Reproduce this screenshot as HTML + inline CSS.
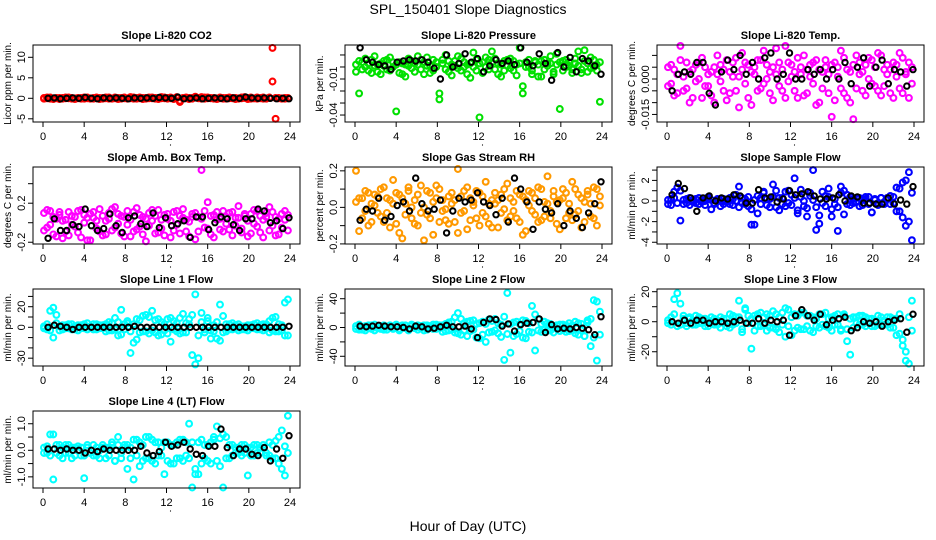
<!DOCTYPE html>
<html><head><meta charset="utf-8"><style>
html,body{margin:0;padding:0;background:#fff;}
svg{display:block;font-family:"Liberation Sans",sans-serif;}
</style></head><body>
<svg id="chart" width="936" height="540" viewBox="0 0 936 540">
<rect x="0" y="0" width="936" height="540" fill="#fff"/>
<text x="468" y="14" text-anchor="middle" font-size="14">SPL_150401  Slope Diagnostics</text>
<text x="468" y="531" text-anchor="middle" font-size="14">Hour of Day (UTC)</text>
<g id="panels"></g>
</svg>
<script>
const hours=[0.1,0.4,0.7,1.0,1.3,1.6,1.9,2.2,2.5,2.8,3.1,3.4,3.7,4.0,4.3,4.6,4.9,5.2,5.5,5.8,6.1,6.4,6.7,7.0,7.3,7.6,7.9,8.2,8.5,8.8,9.1,9.4,9.7,10.0,10.3,10.6,10.9,11.2,11.5,11.8,12.1,12.4,12.7,13.0,13.3,13.6,13.9,14.2,14.5,14.8,15.1,15.4,15.7,16.0,16.3,16.6,16.9,17.2,17.5,17.8,18.1,18.4,18.7,19.0,19.3,19.6,19.9,20.2,20.5,20.8,21.1,21.4,21.7,22.0,22.3,22.6,22.9,23.2,23.5,23.8];
const blackHours=[0.5,1.1,1.7,2.3,2.9,3.5,4.1,4.7,5.3,5.9,6.5,7.1,7.7,8.3,8.9,9.5,10.1,10.7,11.3,11.9,12.5,13.1,13.7,14.3,14.9,15.5,16.1,16.7,17.3,17.9,18.5,19.1,19.7,20.3,20.9,21.5,22.1,22.7,23.3,23.9];
const xTicks=[0,4,8,12,16,20,24];

const co2A=[0.1,0.2,-0.1,0.0,0.1,-0.2,0.1,0.0,0.2,-0.1,0.0,0.1,-0.1,0.2,0.0,-0.1,0.1,0.0,-0.2,0.1,0.0,0.2,-0.1,0.0,0.1,-0.1,0.2,0.0,0.3,-0.1,0.1,0.0,-0.2,0.1,0.2,0.0,-0.1,0.1,0.3,0.0,-0.1,0.2,0.0,0.3,-0.9,0.1,0.0,-0.2,0.1,0.4,0.0,-0.1,0.2,0.0,0.1,-0.1,0.0,0.2,-0.1,0.1,0.0,0.1,-0.2,0.0,0.2,0.3,0.1,-0.1,0.0,0.2,0.1,-0.1,0.0,0.2,12.3,0.1,0.0,-0.1,0.1,0.0];
const co2B=[-0.1,0.0,0.2,-0.2,0.0,0.1,-0.1,0.2,0.0,0.1,-0.2,0.0,0.1,-0.1,0.2,0.0,-0.1,0.2,0.1,-0.1,0.2,-0.1,0.0,0.2,-0.2,0.1,0.0,-0.1,0.0,0.2,-0.1,0.2,0.1,-0.1,0.0,0.2,0.1,-0.2,0.0,0.2,0.1,0.0,-0.2,0.1,-0.6,0.0,0.2,0.1,-0.1,0.2,0.1,0.3,-0.1,0.2,0.0,0.1,-0.2,0.0,0.1,-0.1,0.2,0.0,0.1,-0.1,0.0,0.1,-0.2,0.2,0.0,-0.1,0.0,0.2,-0.1,0.1,4.1,-5.0,0.1,0.0,-0.1,0.1];
const co2K=[0.0,0.1,-0.1,0.0,0.1,0.0,0.2,0.0,-0.1,0.1,0.0,0.1,0.0,-0.1,0.1,0.0,0.1,0.0,0.2,0.1,0.0,0.3,-0.1,0.0,0.1,-0.1,0.0,0.1,0.0,-0.1,0.1,0.0,0.3,0.1,0.0,0.1,0.0,-0.1,0.0,-0.1];

const presA=[0.002,-0.022,0.004,0.000,-0.003,0.006,0.001,-0.004,0.003,0.005,-0.002,0.008,0.000,-0.037,0.004,-0.006,0.002,0.007,-0.001,0.003,0.009,-0.002,0.004,0.001,-0.005,0.006,0.000,-0.022,0.003,0.010,-0.004,0.002,0.005,-0.001,0.007,0.000,-0.006,0.003,0.012,-0.003,-0.042,0.004,0.000,0.006,0.013,-0.002,0.003,-0.008,0.005,0.001,0.007,-0.003,0.002,0.016,-0.022,0.004,0.000,-0.006,0.005,0.002,-0.008,0.006,0.001,0.003,-0.004,0.011,-0.035,0.005,0.000,0.004,-0.002,0.007,0.001,-0.005,0.014,0.003,-0.001,0.006,0.002,-0.029];
const presB=[-0.004,0.005,-0.002,0.007,0.003,-0.005,0.009,0.002,-0.006,0.001,0.006,-0.003,0.004,0.002,-0.005,0.003,-0.008,0.001,0.005,-0.004,0.002,0.006,-0.006,0.008,0.001,-0.003,0.004,-0.027,0.006,-0.002,0.005,-0.007,0.001,0.009,-0.003,0.004,0.002,-0.009,0.000,0.006,0.003,-0.005,0.008,-0.002,0.004,0.007,-0.006,0.002,-0.003,0.006,-0.001,0.005,-0.007,0.003,-0.016,0.000,0.006,-0.003,0.004,-0.008,0.005,-0.002,0.003,0.009,-0.006,0.002,0.004,-0.003,0.006,0.001,-0.005,0.003,0.013,-0.002,0.005,-0.004,0.008,0.000,-0.003,0.004];
const presK=[0.016,0.006,0.004,0.002,0.001,-0.002,0.004,0.005,0.006,0.005,0.006,0.004,-0.001,-0.010,0.010,0.000,0.003,0.011,0.004,0.007,-0.004,0.001,0.006,0.003,0.005,0.002,0.016,0.004,0.001,0.011,0.003,-0.011,0.012,0.000,0.008,-0.004,0.007,0.005,0.001,-0.006];

const tempA=[0.005,-0.002,0.004,-0.006,0.008,0.001,-0.004,0.003,-0.008,0.006,0.000,0.009,-0.003,0.002,-0.007,0.005,0.010,-0.001,0.004,-0.009,0.003,0.007,-0.005,0.001,0.011,-0.002,0.006,-0.011,0.002,0.008,-0.004,0.012,0.000,-0.006,0.005,0.013,-0.003,0.004,-0.008,0.007,0.001,-0.005,0.009,0.002,-0.007,0.004,0.006,-0.002,0.008,-0.010,0.003,0.005,-0.006,-0.016,0.007,0.001,-0.004,0.009,-0.008,0.003,-0.017,0.010,0.002,-0.005,0.006,0.000,0.008,-0.003,0.011,-0.007,0.004,0.002,-0.006,0.007,0.001,-0.004,0.009,0.003,-0.008,0.005];
const tempB=[-0.003,0.006,-0.007,0.002,0.014,-0.005,0.007,-0.010,0.004,-0.001,0.007,-0.008,0.005,-0.003,0.003,-0.010,0.002,0.006,-0.005,0.008,-0.006,0.001,0.009,-0.012,0.004,0.007,-0.008,0.003,0.005,-0.005,0.008,-0.002,0.006,0.003,-0.009,0.002,0.007,-0.005,0.014,-0.001,0.006,0.003,-0.008,0.005,0.010,-0.006,0.001,0.007,-0.011,0.004,-0.004,0.008,0.002,0.006,-0.009,0.005,0.012,-0.006,0.004,-0.010,0.006,-0.004,0.007,0.003,-0.007,0.009,-0.002,0.005,-0.005,0.010,-0.003,0.006,0.004,-0.008,0.006,0.011,-0.006,0.002,0.007,-0.002];
const tempK=[-0.005,0.002,0.003,0.002,0.007,0.007,-0.006,-0.011,0.003,0.008,0.004,0.010,0.002,0.007,0.000,0.009,0.011,0.000,0.002,0.011,0.000,0.000,0.004,0.002,0.004,0.000,0.004,0.000,0.007,-0.002,0.005,0.009,-0.003,0.005,0.008,-0.002,0.004,0.003,-0.003,0.004];

const ambA=[0.10,-0.05,0.12,-0.12,0.04,0.08,-0.16,0.03,0.11,-0.02,0.06,-0.10,0.13,0.00,-0.18,0.09,0.05,-0.06,0.14,-0.13,0.02,0.10,-0.08,0.16,-0.01,0.07,-0.14,0.12,0.03,-0.09,0.15,-0.04,0.06,-0.19,0.10,0.02,-0.11,0.13,-0.06,0.08,0.04,-0.15,0.11,-0.02,0.07,0.14,-0.09,0.01,0.09,-0.17,0.06,0.54,-0.05,0.21,-0.12,0.08,0.03,-0.07,0.12,-0.01,0.10,-0.13,0.05,0.17,-0.06,0.09,0.02,-0.11,0.13,-0.04,0.07,-0.15,0.10,0.16,-0.03,0.06,-0.12,0.09,0.12,-0.08];
const ambB=[-0.08,0.13,-0.02,0.06,-0.14,0.11,0.02,-0.09,-0.13,0.07,-0.04,0.12,-0.15,0.08,0.05,-0.18,0.11,0.02,-0.09,0.07,-0.12,0.04,0.14,-0.05,0.09,-0.11,0.06,-0.02,-0.14,0.11,-0.07,0.08,-0.12,0.04,-0.03,0.13,0.07,-0.10,0.03,-0.13,0.09,0.02,-0.08,0.12,-0.11,0.05,0.03,-0.14,0.06,0.10,-0.09,0.04,0.12,-0.06,0.07,-0.15,0.11,0.04,-0.09,0.06,-0.07,0.11,-0.03,0.05,-0.10,0.07,-0.14,0.09,-0.01,0.12,-0.10,0.03,0.06,-0.08,0.11,-0.13,0.04,-0.05,0.03,0.08];
const ambK=[-0.16,0.04,-0.08,-0.08,-0.02,-0.04,0.14,-0.03,-0.08,-0.06,0.09,-0.03,-0.10,0.05,0.07,-0.01,-0.04,0.10,-0.05,0.05,-0.03,-0.01,0.02,-0.15,0.06,0.06,-0.07,0.00,0.06,0.04,-0.02,-0.08,0.04,0.04,0.14,0.12,0.00,0.02,-0.06,0.05];

const rhA=[0.03,-0.13,0.05,-0.02,0.08,-0.08,0.01,0.06,-0.05,0.11,-0.03,0.04,0.15,-0.09,0.07,-0.17,0.02,0.09,-0.06,0.04,-0.10,0.12,0.00,-0.04,0.08,-0.15,0.05,0.10,-0.02,-0.07,0.06,0.02,-0.08,0.21,-0.03,0.09,-0.12,0.05,0.01,-0.06,0.08,-0.03,0.14,-0.09,0.04,0.02,-0.11,0.07,-0.01,0.13,-0.05,0.03,0.09,-0.08,0.06,-0.13,0.01,0.08,-0.04,0.11,-0.07,0.03,0.17,-0.02,0.06,-0.09,0.04,0.10,-0.06,0.02,0.14,-0.04,0.07,-0.11,0.03,0.09,-0.05,0.11,-0.10,0.06];
const rhB=[0.20,0.05,-0.06,0.09,-0.10,0.02,0.07,-0.03,0.10,-0.08,0.05,-0.11,0.02,0.08,-0.14,0.05,-0.04,0.11,0.00,-0.09,0.07,-0.03,-0.18,0.09,-0.06,0.03,0.12,-0.08,0.04,-0.01,-0.09,0.08,0.04,-0.14,0.06,-0.02,0.11,-0.07,0.03,0.09,-0.10,0.06,-0.05,0.02,-0.11,0.08,0.04,-0.03,0.10,-0.07,0.05,-0.02,-0.06,0.07,-0.15,0.04,0.09,-0.02,0.05,-0.08,0.10,-0.05,0.02,-0.06,0.09,0.03,-0.12,0.05,0.08,-0.03,-0.07,0.10,-0.02,0.05,-0.08,0.07,0.02,-0.06,0.10,0.01];
const rhK=[-0.07,-0.01,-0.02,0.05,-0.07,-0.05,0.01,0.03,-0.02,0.16,0.02,-0.02,-0.01,0.04,-0.14,-0.02,0.05,0.03,0.04,0.08,0.03,0.01,-0.04,0.05,-0.08,0.16,0.10,0.03,-0.12,0.03,-0.01,-0.03,0.02,-0.10,-0.02,-0.06,-0.11,-0.03,0.02,0.14];

const sampA=[-0.3,0.2,0.9,1.3,-1.9,0.1,-0.2,0.3,-0.1,0.2,-0.3,0.1,0.0,0.4,-0.8,-0.2,0.2,0.0,-0.3,0.1,0.3,-0.4,0.0,1.4,-0.2,0.2,-0.5,-2.3,0.1,-1.2,0.3,0.8,-0.4,0.2,1.6,-0.6,0.3,-0.3,0.9,-0.2,0.6,2.2,-0.9,0.4,-0.5,-1.5,0.8,0.1,-2.8,-1.4,-0.2,0.5,1.2,-1.5,-0.3,-2.9,1.4,-1.3,0.6,-0.4,0.2,-0.1,0.3,-0.4,0.2,0.4,-1.1,0.1,-0.2,0.3,-0.1,0.2,-0.3,0.4,1.3,-1.0,1.8,-2.4,2.8,-3.8];
const sampB=[0.1,-0.4,0.3,-0.2,1.0,-0.3,0.2,-0.4,0.1,-0.2,0.3,-0.1,-0.4,0.2,0.1,-0.3,0.0,-0.5,0.2,-0.1,-0.3,0.2,0.6,-0.6,0.3,-0.3,0.4,-0.8,-2.3,0.5,-0.3,0.9,0.2,-0.6,0.4,1.0,-0.9,0.3,-0.5,1.0,-0.4,0.3,-1.2,1.1,0.0,-0.7,0.5,3.0,-0.6,-2.2,0.9,-0.5,0.4,-0.8,0.2,-0.6,0.8,1.0,-0.3,0.4,-0.2,0.3,-0.5,0.1,0.4,-0.3,-1.1,0.2,-0.4,0.3,-0.3,0.3,0.5,-0.2,-1.0,1.2,-1.6,2.0,-2.0,0.8];
const sampK=[0.6,1.7,1.2,0.3,-1.0,0.3,0.5,0.0,0.3,0.2,0.6,0.5,-0.2,-0.2,1.1,0.3,0.4,-0.1,0.2,1.0,0.6,0.7,0.9,0.5,0.2,0.2,0.3,0.6,0.0,0.5,0.4,-0.2,-0.2,-0.3,-0.3,0.3,-0.3,0.1,-0.3,1.4];

const l1A=[1,-2,16,-10,4,-3,2,-1,3,-2,1,-3,2,-1,4,0,-2,3,-1,2,-4,5,-3,9,-8,17,-2,4,-25,3,-12,7,-4,12,-6,16,-5,8,-7,3,-6,9,-2,4,-6,13,-5,8,-27,32,-8,14,-5,6,-3,2,-11,22,-5,3,-2,4,-1,3,-2,1,-3,2,-1,4,-2,3,-1,6,-3,10,-4,2,-8,27];
const l1B=[-1,3,-3,19,12,1,-2,2,-1,3,-2,2,-1,3,-2,1,3,-2,2,-1,3,-3,4,-2,5,-7,3,6,-4,-15,8,-5,11,-4,10,-3,7,-8,5,-3,8,-14,6,-4,9,-5,4,3,12,-36,-30,5,-2,9,-11,-4,5,-13,11,-4,3,-2,2,-3,1,-2,2,-1,3,-2,2,-3,3,-5,9,-4,3,-3,24,-8];
const l1K=[0,2,1,0,-2,0,0,0,0,0,0,0,0,0,1,0,0,0,0,0,0,0,0,0,0,0,0,0,0,0,0,0,0,0,0,0,0,0,0,1];

const l2A=[2,-3,1,-4,3,-2,4,-1,2,-3,1,3,-2,2,-4,1,3,-2,4,-1,-3,2,-4,3,-1,4,-2,3,-6,5,-4,8,-7,20,-10,6,-12,9,-3,5,-15,8,-20,11,-6,12,-8,4,-45,48,-35,7,-9,5,-14,9,-6,30,-32,12,-6,8,-4,5,-7,3,-5,4,-6,6,-4,8,-10,5,-12,10,-26,38,-46,22];
const l2B=[-2,4,-3,2,-1,3,-4,1,-2,3,-3,2,-1,4,-2,3,-1,-4,2,1,3,-1,3,-3,2,-2,4,-1,3,-5,7,-3,14,-8,12,-4,8,-5,10,-14,6,-10,5,-7,9,-4,6,-13,15,-9,5,-12,8,-5,10,-15,6,-7,18,-4,5,-3,6,-4,2,-2,4,-3,3,-5,3,-8,6,-4,-12,7,12,-14,36,-10];
const l2K=[2,1,2,3,2,1,1,0,-2,2,1,-2,-1,1,3,1,1,2,-2,-14,7,12,11,2,5,-5,4,6,7,12,-7,4,-2,-1,-2,0,-1,-3,-10,15];

const l3A=[1,-2,15,-3,12,2,-1,3,-2,4,-1,2,-3,1,3,-2,1,-4,2,-3,5,-2,3,14,-7,8,-1,-18,4,-3,6,-2,5,-4,7,-5,3,-2,9,-3,-9,5,-4,6,-5,4,-6,3,-3,5,-2,6,-4,3,-2,5,-5,4,-13,-22,3,-1,4,-2,3,-1,2,-3,4,-2,1,-2,3,-4,2,-8,-16,-20,-28,14];
const l3B=[-1,3,5,19,-2,4,-3,2,1,-2,3,-1,2,-3,-1,2,-2,3,-1,2,-4,4,-1,3,-5,9,4,2,-6,5,-3,3,-6,4,-4,5,-7,6,-10,8,3,-6,4,-5,6,-3,4,-7,2,-4,5,-3,2,-6,4,-2,-6,5,-5,2,-4,3,-2,4,-3,2,-3,1,-2,3,-2,3,-4,2,-9,5,-12,-26,3,-6];
const l3K=[0,-1,1,-1,1,1,-1,0,0,-1,0,1,-1,-1,2,-1,1,0,1,-9,4,8,4,1,5,-2,1,2,3,-6,-4,0,-1,0,-3,0,1,2,-7,5];

const l4A=[0.1,-0.1,0.6,-1.1,0.2,-0.2,0.1,-0.1,0.2,-0.3,0.1,0.0,-0.2,-1.05,0.1,-0.1,0.2,-0.2,0.0,0.1,-0.3,0.1,0.3,-0.4,0.5,-0.1,0.2,-0.7,0.1,-1.1,0.4,-0.6,0.2,-0.3,0.5,-0.4,0.3,-0.2,0.1,-0.9,0.3,-0.5,0.2,-0.3,0.4,-0.4,0.3,1.0,-1.4,-0.7,-0.9,0.4,-0.3,0.2,-0.5,0.4,0.9,-0.6,-1.4,0.5,-0.3,0.2,-0.1,0.1,-0.2,0.2,-0.95,0.1,-0.2,0.2,-0.1,0.1,-0.2,0.3,-0.3,0.35,-0.5,0.75,-0.95,1.3];
const l4B=[-0.1,0.15,-0.2,0.6,-0.1,0.2,-0.3,0.2,-0.1,0.1,-0.2,0.15,0.1,-0.2,0.2,-0.1,-0.2,0.1,-0.3,0.2,0.1,-0.2,0.2,-0.4,0.2,-0.3,0.1,0.2,-0.3,0.4,-0.2,0.3,-0.4,0.5,-0.3,0.4,-0.5,0.3,-0.2,0.3,-0.4,0.2,-0.5,0.3,-0.3,0.4,-0.2,-0.3,0.3,-0.9,0.3,-0.5,0.2,-0.4,0.3,0.5,-0.4,0.45,0.6,-0.3,0.2,-0.2,0.1,-0.1,0.2,-0.1,0.1,-0.2,0.2,-0.1,0.1,0.2,-0.1,-0.2,0.2,-0.3,0.5,-0.7,0.15,-0.1];
const l4K=[0.05,0.05,0.0,0.05,0.0,0.0,-0.1,0.0,-0.05,0.05,0.0,0.0,0.0,0.0,0.0,0.15,-0.1,-0.2,-0.05,0.3,0.15,0.2,0.3,0.05,-0.15,-0.2,0.15,0.15,0.8,0.1,-0.2,0.05,0.05,-0.15,-0.2,0.1,-0.4,0.05,-0.3,0.55];

const panelTitles=["Slope Li-820 CO2","Slope Li-820 Pressure","Slope Li-820 Temp.","Slope Amb. Box Temp.","Slope Gas Stream RH","Slope Sample Flow","Slope Line 1 Flow","Slope Line 2 Flow","Slope Line 3 Flow","Slope Line 4 (LT) Flow"];
const yTitles=["Licor ppm per min.","kPa per min.","degrees C per min.","degrees C per min.","percent per min.","ml/min per min.","ml/min per min.","ml/min per min.","ml/min per min.","ml/min per min."];
const yTickVals=[[-5,0,5,10],[0.01,0,-0.01,-0.02,-0.03,-0.04],[0.01,0.005,0,-0.005,-0.01,-0.015],[0.4,0.2,0,-0.2],[0.2,0.1,0,-0.1,-0.2],[3,2,1,0,-1,-2,-3,-4],[30,20,10,0,-10,-20,-30],[40,20,0,-20,-40],[20,10,0,-10,-20],[1,0.5,0,-0.5,-1]];
const yLabelVals=[[-5,0,5,10],[-0.04,-0.01],[0,-0.015],[0.2,-0.2],[0.2,0,-0.2],[2,0,-2,-4],[20,0,-30],[40,0,-40],[20,0,-20],[1,0,-1]];
const yLabelText=[["-5","0","5","10"],["-0.04","-0.01"],["0.000","-0.015"],["0.2","-0.2"],["0.2","0.0","-0.2"],["2","0","-2","-4"],["20","0","-30"],["40","0","-40"],["20","0","-20"],["1.0","0.0","-1.0"]];
const yDomains=[[-5.78,13.0],[-0.0458,0.0183],[-0.0182,0.0144],[-0.218,0.571],[-0.2005,0.221],[-4.17,3.30],[-37.6,37.2],[-53.5,53.5],[-29.5,21.8],[-1.42,1.48]];
const seriesA=[co2A,presA,tempA,ambA,rhA,sampA,l1A,l2A,l3A,l4A];
const seriesB=[co2B,presB,tempB,ambB,rhB,sampB,l1B,l2B,l3B,l4B];
const seriesK=[co2K,presK,tempK,ambK,rhK,sampK,l1K,l2K,l3K,l4K];
const colors=["#ff0000","#00e000","#ff00ff","#ff00ff","#ff9900","#0000ff","#00ffff","#00ffff","#00ffff","#00ffff"];

const NS="http://www.w3.org/2000/svg";
const root=document.getElementById('panels');
function mk(tag,attrs,parent){const e=document.createElementNS(NS,tag);for(const k in attrs)e.setAttribute(k,attrs[k]);parent.appendChild(e);return e;}

for(let p=0;p<10;p++){
  const col=p%3,row=Math.floor(p/3);
  const x0=43+312*col, xw=247;
  const top=45+122*row, bot=top+77;
  const left=x0-10, right=x0+xw+10;
  const xs=h=>x0+h/24*xw;
  const [d0,d1]=yDomains[p];
  const ys=v=>bot-(v-d0)/(d1-d0)*(bot-top);
  const g=mk('g',{},root);
  
  
  const t=mk('text',{x:(left+right)/2,y:top-6,'text-anchor':'middle','font-size':11,'font-weight':'bold'},g);
  t.textContent=panelTitles[p];
  
  
  const pg=mk('g',{fill:'none','stroke-width':2.1},g);
  
  
  [seriesA[p],seriesB[p]].forEach(arr=>{
    arr.forEach((v,i)=>{
      const c=mk('circle',{cx:xs(hours[i]).toFixed(1),cy:ys(v).toFixed(1),r:2.9,stroke:colors[p]},pg);
      
      
    });
  });
  const kg=mk('g',{fill:'none','stroke-width':2,stroke:'#000'},g);
  
  
  seriesK[p].forEach((v,i)=>{
    const c=mk('circle',{cx:xs(blackHours[i]).toFixed(1),cy:ys(v).toFixed(1),r:2.7},kg);
    
    
  });
  const b=mk('rect',{x:left,y:top,width:right-left,height:bot-top,fill:'none',stroke:'#000','stroke-width':1},g);
  
  
  const xa=mk('g',{stroke:'#000'},g);
  
  
  xTicks.forEach(h=>{
    mk('line',{x1:xs(h),x2:xs(h),y1:bot,y2:bot+5},xa);
    const tx=mk('text',{x:xs(h),y:bot+18,'text-anchor':'middle','font-size':11,stroke:'none',fill:'#000'},xa);
    tx.textContent=h;
    
    
  });
  mk('circle',{cx:xs(12)+4,cy:bot+23,r:0.6,fill:'#000',stroke:'none'},xa);
  const ya=mk('g',{stroke:'#000'},g);
  
  
  yTickVals[p].forEach(v=>{mk('line',{x1:left-5,x2:left,y1:ys(v),y2:ys(v)},ya);});
  yLabelVals[p].forEach((v,i)=>{
    const tx=mk('text',{x:0,y:0,transform:`translate(${left-8},${ys(v)}) rotate(-90)`,'text-anchor':'middle','font-size':11,stroke:'none',fill:'#000'},ya);
    tx.textContent=yLabelText[p][i];
    
    
  });
  const yt=mk('text',{x:0,y:0,transform:`translate(${left-22},${(top+bot)/2}) rotate(-90)`,'text-anchor':'middle','font-size':10},g);
  yt.textContent=yTitles[p];
  
  
}
</script>
</body></html>
